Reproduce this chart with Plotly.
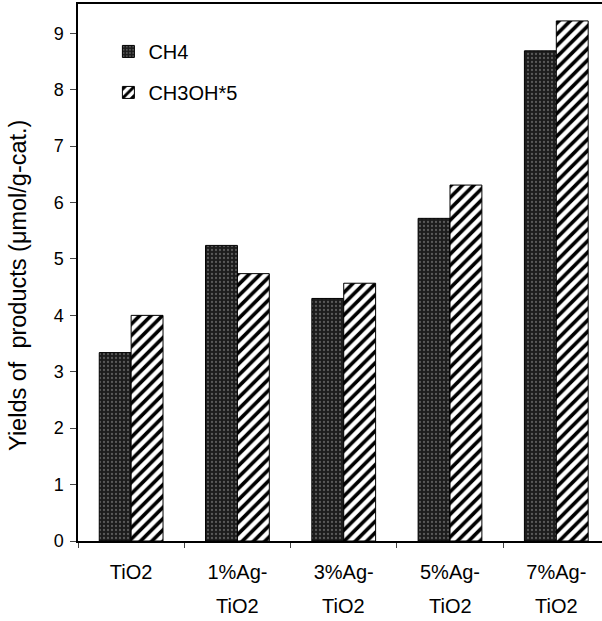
import plotly.graph_objects as go

categories = ["TiO2", "1%Ag-TiO2", "3%Ag-TiO2", "5%Ag-TiO2", "7%Ag-TiO2"]
tick_line1 = ["TiO2", "1%Ag-", "3%Ag-", "5%Ag-", "7%Ag-"]
tick_line2 = ["", "TiO2", "TiO2", "TiO2", "TiO2"]
ch4 = [3.34, 5.24, 4.30, 5.72, 8.69]
ch3oh_x5 = [4.00, 4.74, 4.57, 6.31, 9.22]
y_ticks = [0, 1, 2, 3, 4, 5, 6, 7, 8, 9]

FONT = "Liberation Sans, Arial, sans-serif"

fig = go.Figure()
fig.add_trace(go.Bar(
    x=categories, y=ch4, name="CH4", legendgroup="a",
    marker=dict(color="#1c1c1c", line=dict(color="black", width=1),
                pattern=dict(shape=".", fgcolor="#5a5a5a", bgcolor="#1c1c1c",
                             size=4, solidity=0.25, fillmode="replace")),
))
fig.add_trace(go.Bar(
    x=categories, y=ch3oh_x5, name="CH3OH*5", legendgroup="b",
    marker=dict(color="white", line=dict(color="black", width=1),
                pattern=dict(shape="/", fgcolor="black", bgcolor="white",
                             size=8, solidity=0.45, fillmode="replace")),
))

annotations = []
for c, t in zip(categories, tick_line2):
    if t:
        annotations.append(dict(x=c, xref="x", y=0, yref="paper", yanchor="middle",
                                yshift=-65, text=t, showarrow=False,
                                font=dict(family=FONT, size=20, color="black")))
annotations.append(dict(x=0, xref="paper", xshift=-60, y=0.475, yref="paper",
                        text="Yields of\u00a0 products (\u03bcmol/g-cat.)", textangle=-90,
                        showarrow=False, xanchor="center", yanchor="middle",
                        font=dict(family=FONT, size=23.5, color="black")))

fig.update_layout(
    width=602, height=621,
    margin=dict(l=78, r=0, t=4, b=80),
    paper_bgcolor="white", plot_bgcolor="white",
    barmode="group", bargap=0.40, bargroupgap=0,
    font=dict(family=FONT, size=18, color="black"),
    showlegend=True,
    legend=dict(x=0.058, y=0.948, xanchor="left", yanchor="top",
                bgcolor="rgba(0,0,0,0)", font=dict(family=FONT, size=20),
                traceorder="grouped", tracegroupgap=12, itemwidth=30),
    annotations=annotations,
    xaxis=dict(
        range=[-0.5, 4.43], tickmode="array", tickvals=categories, ticktext=tick_line1,
        tickson="boundaries", ticks="outside", ticklen=5, tickcolor="#444",
        showline=True, linecolor="black", linewidth=1.5, mirror=True,
        ticklabelstandoff=12, tickfont=dict(family=FONT, size=20, color="black"),
        showgrid=False, zeroline=False, fixedrange=True,
    ),
    yaxis=dict(
        range=[0, 9.52], tickmode="array", tickvals=y_ticks,
        ticks="outside", ticklen=6, tickcolor="#444",
        showline=True, linecolor="black", linewidth=1.5,
        tickfont=dict(family=FONT, size=18, color="black"),
        showgrid=False, zeroline=False, ticklabelstandoff=3,
    ),
)

fig.write_html("out.html")
